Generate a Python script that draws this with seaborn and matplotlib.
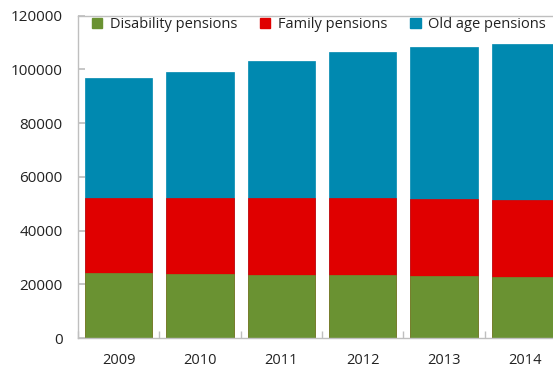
import matplotlib
matplotlib.use("Agg")
import matplotlib.pyplot as plt
import seaborn as sns
import pandas as pd
import numpy as np
from matplotlib.patches import Patch

years = ["2009", "2010", "2011", "2012", "2013", "2014"]
disability = [24100, 23700, 23500, 23300, 23000, 22600]
family = [27900, 28300, 28500, 28700, 28700, 28800]
old_age = [44800, 47000, 51100, 54400, 56800, 58100]
series_names = ["Disability pensions", "Family pensions", "Old age pensions"]
colors = ["#6A9232", "#E00000", "#0089B0"]

sns.set_theme(style="white")
plt.rcParams['font.family'] = ['Open Sans', 'DejaVu Sans']

fig = plt.figure(figsize=(5.53, 3.68), dpi=100)
ax = fig.add_axes([78/553, 1 - 338/368, (566 - 78)/553, (338 - 15.7)/368])

d = np.array(disability)
f = np.array(family)
o = np.array(old_age)
df = pd.DataFrame({"year": years, "c1": d, "c2": d + f, "c3": d + f + o})

for col, c in zip(["c3", "c2", "c1"], colors[::-1]):
    sns.barplot(data=df, x="year", y=col, color=c, width=0.83, ax=ax,
                saturation=1, edgecolor=c, linewidth=0.5)

ax.set_xlim(-0.5, 5.5)
ax.set_ylim(0, 120000)
ax.set_yticks(range(0, 120001, 20000))
ax.set_yticklabels([str(v) for v in range(0, 120001, 20000)])
ax.set_xlabel("")
ax.set_ylabel("")

for s in ["left", "bottom", "top"]:
    ax.spines[s].set_visible(True)
    ax.spines[s].set_color("#BFBFBF")
    ax.spines[s].set_linewidth(1.0)
ax.spines["right"].set_visible(False)

ax.tick_params(axis="y", direction="in", length=5, color="#BFBFBF", pad=11,
               labelsize=11, labelcolor="#222222", left=True)
ax.tick_params(axis="x", length=0, pad=11, labelsize=10.5, labelcolor="#222222")
# category boundary ticks
ax.set_xticks(np.arange(-0.5, 6.0, 1.0), minor=True)
ax.tick_params(axis="x", which="minor", direction="in", length=5, color="#BFBFBF", bottom=True)

handles = [Patch(facecolor=c, edgecolor=c) for c in colors]
leg = ax.legend(handles, series_names, loc="upper left", bbox_to_anchor=(92/553, 1 - 17/368),
                bbox_transform=fig.transFigure, ncol=3, frameon=False, fontsize=10.5,
                handlelength=0.7, handleheight=0.7, handletextpad=0.5, columnspacing=1.6,
                borderaxespad=0, borderpad=0)
for t in leg.get_texts():
    t.set_color("#222222")

fig.savefig("out.png", dpi=100)
